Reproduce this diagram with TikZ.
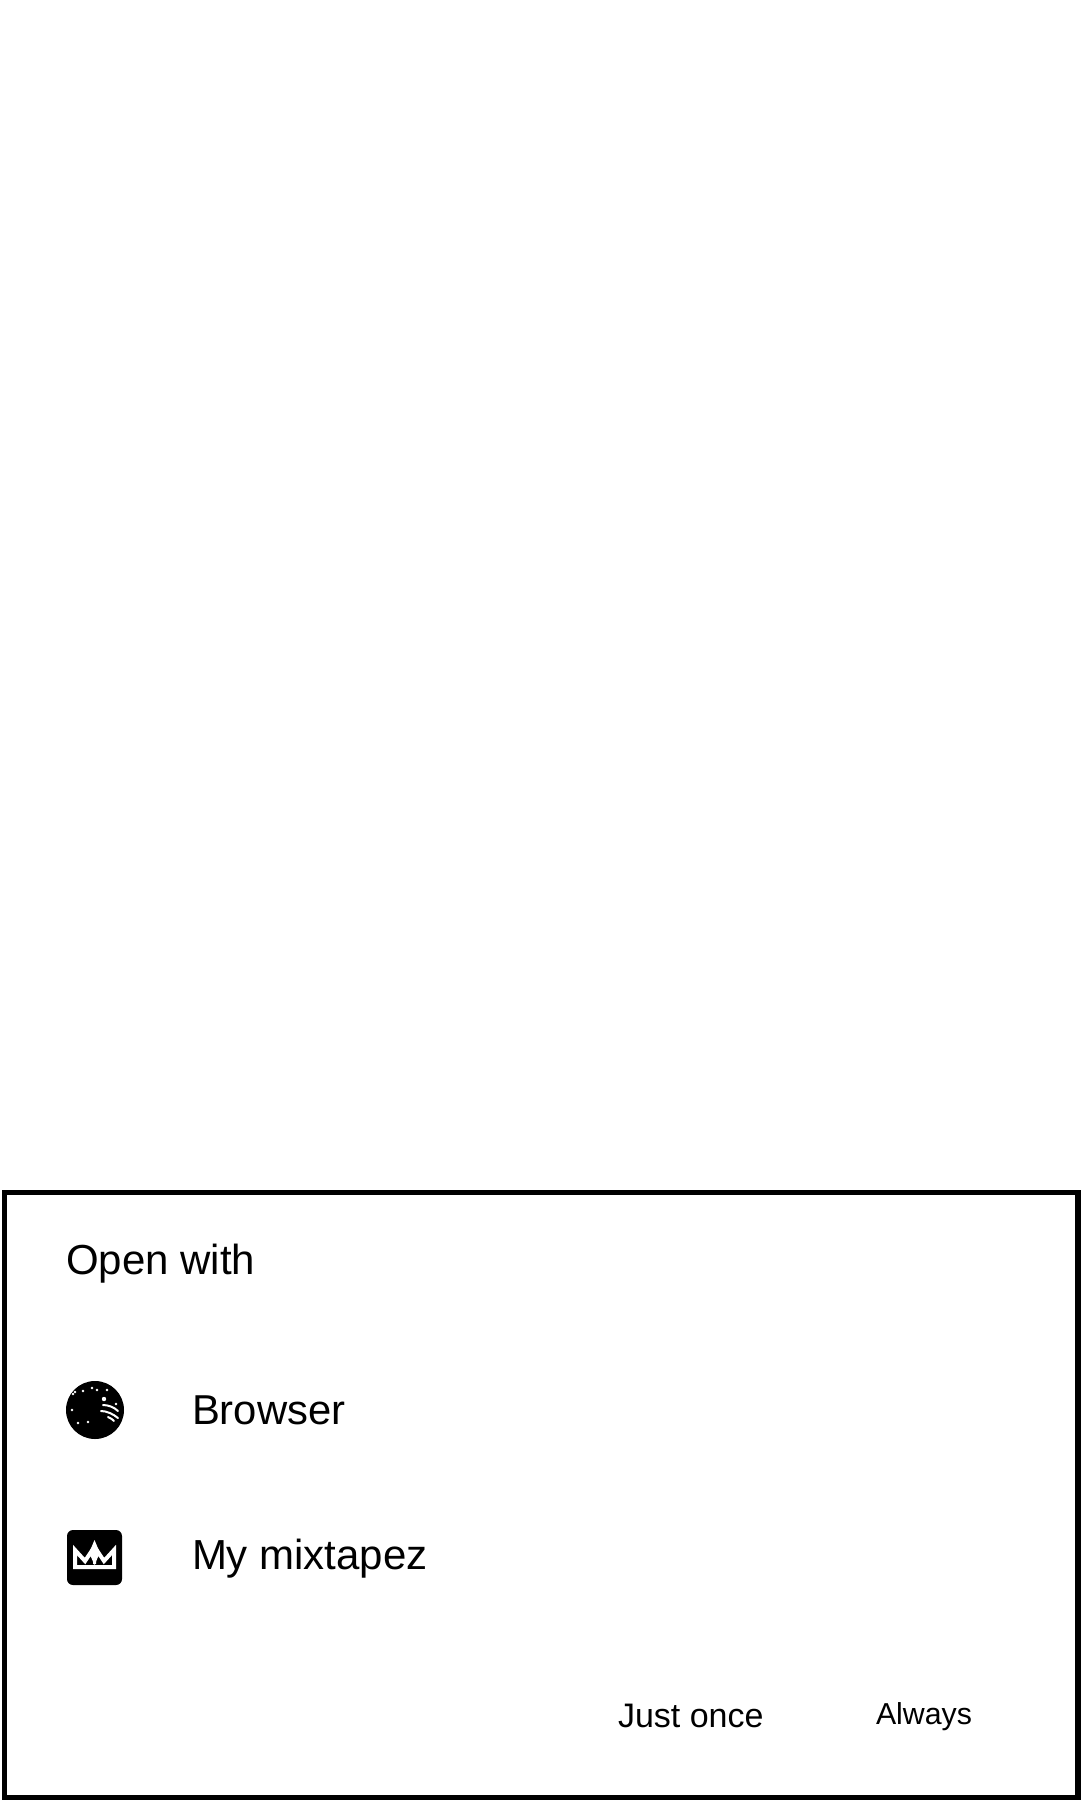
\documentclass[tikz,border=0pt]{standalone}
\usepackage{fontspec}
\setmainfont{Liberation Sans}
\newcommand{\pxfont}[1]{\fontsize{#1bp}{#1bp}\selectfont}
\tikzset{
  lbl/.style={anchor=base west,inner sep=0pt,outer sep=0pt,text=black},
  streak/.style={white,line width=2bp,line cap=round}
}
\begin{document}
\begin{tikzpicture}[x=1bp,y=-1bp]
\useasboundingbox (0,0) rectangle (1080,1800);
\fill[white] (0,0) rectangle (1080,1800);
\draw[black,line width=5.5bp] (4.5,1192.5) rectangle (1078.2,1798);
\node[lbl,font=\pxfont{42}] (title) at (66,1274) {Open with};
% globe icon
\fill[black] (95,1410) circle (29);
\foreach \a/\b in {73/1394,75/1392,83/1391,92/1388,72/1410,78/1423,88/1422,97/1390,107/1390,116/1404}{
  \fill[white] (\a,\b) circle (1.3);
}
\fill[white] (104,1399) circle (2.2);
\draw[streak] (103,1405) .. controls (108,1405) and (114,1407) .. (118,1411);
\draw[streak] (101,1411) .. controls (107,1411) and (113,1414) .. (118,1418);
\draw[streak] (108,1417) .. controls (111,1418) and (113,1420) .. (114,1421);
\node[lbl,font=\pxfont{41.8}] (browser) at (192,1424) {Browser};
% crown icon
\fill[black,rounded corners=6bp] (67,1530) rectangle (122,1585);
\draw[white,line width=4bp,line join=miter] (75,1550) -- (75,1567) -- (114,1567) -- (114,1550) -- (104,1561) -- (98,1552) -- (94.5,1560) -- (91,1552) -- (85,1561) -- cycle;
\fill[white] (94.5,1540) -- (100,1553) -- (96,1558) -- (96,1564) -- (93,1564) -- (93,1558) -- (89,1553) -- cycle;
\node[lbl,font=\pxfont{42}] (mix) at (192,1569) {My mixtapez};
\node[lbl,font=\pxfont{34}] (once) at (618,1727) {Just once};
\node[lbl,font=\pxfont{30.3}] (always) at (876,1724) {Always};
\end{tikzpicture}
\end{document}
